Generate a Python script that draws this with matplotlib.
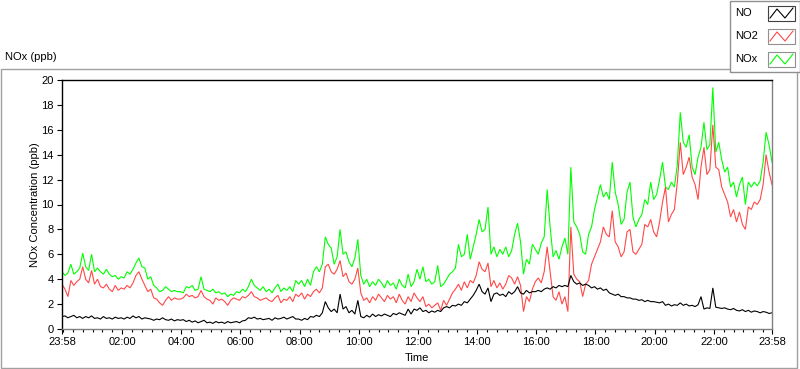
import numpy as np
import pandas as pd
import matplotlib
matplotlib.use("Agg")
import matplotlib.pyplot as plt
import matplotlib.dates as mdates
from matplotlib.patches import Rectangle
from matplotlib.lines import Line2D

# ---------------- data (one sample every 6 minutes) ----------------
start_time = "2015-06-01 23:58"
sample_step = "6min"

no = [
    1.0, 1.05, 0.9, 1.0, 1.1, 0.9, 1.0, 0.85, 1.0, 0.9, 1.05, 0.85, 0.9, 0.8, 1.0, 0.85, 0.9, 0.8, 0.95, 0.85,
    0.9, 0.8, 0.95, 0.85, 1.05, 0.9, 1.0, 0.8, 0.9, 0.85, 0.8, 0.7, 0.8, 0.75, 0.9, 0.75, 0.7, 0.8, 0.65, 0.75,
    0.7, 0.75, 0.6, 0.7, 0.55, 0.65, 0.5, 0.6, 0.7, 0.5, 0.55, 0.45, 0.6, 0.5, 0.55, 0.45, 0.6, 0.5, 0.55, 0.6,
    0.5, 0.65, 0.7, 0.9, 0.85, 0.95, 0.8, 0.85, 0.75, 0.8, 0.85, 0.7, 0.9, 0.8, 0.85, 0.95, 0.8, 0.9, 1.0, 0.8,
    0.8, 0.7, 0.85, 0.75, 1.0, 0.95, 1.1, 1.0, 1.3, 2.2, 1.7, 1.4, 1.6, 1.3, 2.8, 1.6, 1.8, 1.3, 1.5, 1.2,
    2.3, 1.0, 0.9, 1.1, 0.95, 1.2, 1.0, 1.15, 1.05, 1.2, 1.1, 1.0, 1.25, 1.15, 1.3, 1.2, 1.1, 1.6, 1.2, 1.6,
    1.5, 1.7, 1.4, 1.5, 1.3, 1.45, 1.35, 1.5, 1.4, 1.7, 1.8, 1.7, 1.9, 1.85, 2.0, 1.9, 2.2, 2.1, 2.4, 2.7,
    3.1, 3.6, 3.0, 2.8, 3.3, 2.2, 2.8, 2.9, 2.7, 2.8, 2.6, 3.0, 2.8, 3.0, 3.4, 2.9, 2.8, 3.1, 2.9, 3.0,
    3.0, 3.1, 3.0, 3.2, 3.3, 3.2, 3.4, 3.3, 3.5, 3.4, 3.5, 3.4, 4.3, 3.8, 3.6, 3.7, 3.5, 3.6, 3.5, 3.3,
    3.4, 3.2, 3.3, 3.1, 3.2, 2.9, 2.8, 2.7, 2.8, 2.6, 2.6, 2.5, 2.5, 2.4, 2.4, 2.3, 2.35, 2.2, 2.3, 2.2,
    2.2, 2.15, 2.1, 2.2, 1.9, 2.0, 1.85, 1.95, 1.9, 2.1, 1.9, 2.0, 1.85, 1.9, 1.8, 1.95, 2.6, 1.6, 1.7, 1.65,
    3.3, 1.75, 1.7, 1.65, 1.7, 1.6, 1.55, 1.65, 1.5, 1.45, 1.55, 1.4, 1.5, 1.35, 1.45, 1.4, 1.3, 1.4, 1.35, 1.25,
    1.3,
]

no2 = [
    3.6, 3.2, 2.6, 3.9, 3.5, 3.8, 4.0, 5.0, 4.0, 3.7, 4.7, 3.6, 4.0, 3.4, 3.3, 3.6, 3.2, 3.0, 3.5, 3.1,
    3.3, 3.2, 3.5, 3.3, 3.7, 4.3, 4.6, 4.0, 3.5, 3.0, 3.2, 2.5, 2.4, 2.1, 1.9, 2.3, 2.6, 2.3, 2.5, 2.4,
    2.4, 2.5, 2.8, 2.6, 2.7, 2.5, 2.6, 3.1, 2.6, 2.4, 2.3, 2.0, 2.5, 2.3, 2.4, 2.2, 1.9, 2.3, 2.5, 2.4,
    2.3, 2.6, 2.5, 2.7, 3.0, 2.6, 2.5, 2.3, 2.4, 2.5, 2.3, 2.2, 2.5, 2.7, 2.1, 2.4, 2.3, 2.6, 2.2, 2.8,
    2.6, 2.9, 2.4, 2.8, 2.6, 3.0, 3.2, 2.9, 3.3, 5.0, 5.2, 4.6, 4.4, 4.8, 5.5, 4.2, 4.5, 3.8, 3.6, 4.0,
    4.9, 2.9, 2.3, 2.5, 2.1, 2.6, 2.3, 2.8, 2.5, 2.2, 2.7, 2.4, 2.6, 2.1, 2.8, 2.3, 2.0, 2.6, 2.2, 2.9,
    2.5, 2.2, 2.6, 1.8, 2.0, 1.7, 1.9, 2.1, 1.5, 2.3, 1.9, 2.4, 2.9, 3.2, 3.6, 3.1, 3.8, 3.3, 3.9, 3.7,
    4.3, 5.4, 4.8, 4.6, 5.3, 3.4, 3.9, 3.3, 3.7, 3.2, 3.6, 4.3, 4.1, 3.6, 4.2, 3.5, 1.4, 2.6, 2.2, 3.2,
    3.8, 4.1, 3.7, 4.6, 6.6, 4.6, 2.6, 2.3, 3.0, 2.0, 2.6, 1.4, 8.2, 4.4, 4.0, 3.8, 2.6, 3.6, 3.9, 5.2,
    5.8, 6.4, 7.0, 8.2, 7.6, 7.4, 9.5, 7.0, 6.6, 5.8, 6.2, 7.8, 8.0, 6.2, 6.0, 6.4, 6.8, 8.4, 8.2, 8.8,
    7.8, 7.4, 8.6, 10.2, 11.4, 8.6, 9.2, 9.6, 11.8, 15.0, 12.4, 13.0, 13.8, 12.2, 11.6, 10.4, 13.0, 14.6, 12.4, 12.8,
    16.4, 13.0, 12.8, 11.4, 10.8, 10.2, 9.0, 9.6, 8.6, 9.4, 8.4, 8.0, 9.8, 9.6, 10.2, 10.0, 10.4, 11.6, 14.0, 12.6,
    11.6,
]

nox = [
    4.6, 4.3, 4.5, 5.2, 4.4, 4.6, 4.9, 6.1, 5.0, 4.7, 6.0, 4.6, 4.9, 4.6, 4.4, 4.8, 4.4, 4.2, 4.3, 4.0,
    4.2, 4.1, 4.6, 4.4, 4.8, 5.3, 5.7, 5.0, 4.9, 4.0, 4.2, 3.5, 3.3, 3.0, 3.1, 3.4, 3.2, 3.0, 3.1, 3.0,
    3.0, 2.9, 3.4, 3.3, 3.5, 3.1, 3.2, 4.2, 3.2, 3.1, 3.0, 3.2, 2.9, 3.0, 2.8, 2.9, 2.6, 2.8, 2.7, 3.0,
    2.9, 3.2, 3.0, 3.4, 4.0, 3.5, 3.3, 3.1, 3.4, 3.0, 3.2, 2.9, 3.3, 3.6, 3.0, 3.3, 3.1, 3.4, 3.0, 3.9,
    3.6, 3.9, 3.4, 4.0, 3.5, 4.6, 5.0, 4.6, 5.2, 7.4, 6.8, 6.5, 5.2, 5.8, 8.0, 6.0, 6.2, 5.4, 5.0, 5.7,
    7.2, 4.3, 3.6, 4.0, 3.4, 3.8, 3.5, 4.0, 3.7, 3.3, 3.9, 3.5, 3.7, 3.2, 4.0, 3.5, 3.3, 4.4, 3.4, 3.8,
    4.8, 4.0, 5.0, 3.8, 4.0, 3.6, 3.8, 5.1, 3.4, 3.6, 4.0, 4.4, 4.6, 4.9, 6.8, 5.8, 6.0, 7.6, 5.6, 6.6,
    7.6, 8.8, 7.8, 8.0, 9.8, 6.0, 6.6, 5.8, 6.4, 6.0, 6.6, 5.8, 6.3, 7.6, 8.5, 7.0, 4.4, 5.6, 5.2, 6.8,
    6.4, 6.0, 6.9, 7.4, 11.2, 8.2, 5.8, 6.3, 5.6, 6.6, 7.3, 6.0, 13.0, 8.6, 8.2, 7.6, 6.2, 6.0, 7.6, 8.2,
    9.6, 10.6, 11.6, 10.6, 11.0, 10.4, 13.4, 11.0, 10.0, 8.4, 8.8, 11.0, 11.8, 9.0, 8.2, 8.8, 9.2, 10.4, 10.0, 11.8,
    10.4, 10.8, 12.0, 13.4, 11.4, 11.2, 11.8, 11.4, 13.2, 17.4, 15.0, 14.6, 15.6, 13.0, 12.4, 13.8, 14.6, 16.6, 14.4, 14.8,
    19.4, 14.2, 15.0, 13.6, 12.6, 13.0, 11.4, 11.8, 10.6, 11.6, 12.2, 10.0, 11.8, 11.4, 11.8, 11.5, 11.9, 13.4, 15.8, 14.8,
    13.4,
]

series_names = ["NO", "NO2", "NOx"]
series_colors = ["#000000", "#ff4848", "#00ff00"]
tick_labels = ["23:58", "02:00", "04:00", "06:00", "08:00", "10:00", "12:00",
               "14:00", "16:00", "18:00", "20:00", "22:00", "23:58"]
y_ticks = [0, 2, 4, 6, 8, 10, 12, 14, 16, 18, 20]

# ---------------- figure ----------------
plt.rcParams['font.family'] = ['Liberation Sans', 'DejaVu Sans']
plt.rcParams['font.size'] = 8

W, H = 800, 369
fig = plt.figure(figsize=(W / 100, H / 100), dpi=100)
fig.patch.set_facecolor("white")

def fx(x):
    return x / W

def fy(y):
    return 1 - y / H

# outer gray frame
fig.add_artist(Rectangle((fx(0.5), fy(368)), fx(797) - fx(0.5), fy(69) - fy(368),
                         transform=fig.transFigure, fill=False, edgecolor="#a0a0a0", lw=1.0))

ax = fig.add_axes([fx(62), fy(329), fx(772) - fx(62), fy(80) - fy(329)])

t0 = pd.Timestamp(start_time)
t_end = t0 + pd.Timedelta(hours=24)

data = [no, no2, nox]
order = [2, 1, 0]  # draw NOx first, NO on top
for k in order:
    vals = data[k]
    times = pd.date_range(t0, periods=len(vals), freq=sample_step)
    ax.plot(times, vals, color=series_colors[k], lw=0.8, solid_joinstyle="miter")

ax.set_xlim(t0, t_end)
ax.set_ylim(0, 20)
ax.set_yticks(y_ticks)
ax.set_yticklabels([str(v) for v in y_ticks])

day0 = pd.Timestamp(t0.date())
major_pos = [t0] + [day0 + pd.Timedelta(days=1, hours=h) for h in range(2, 24, 2)] + [t_end]
ax.set_xticks([mdates.date2num(p) for p in major_pos])
ax.set_xticklabels(tick_labels)
ax.xaxis.set_minor_locator(mdates.MinuteLocator(byminute=[0, 20, 40]))

ax.tick_params(axis="both", which="major", direction="out", length=3.6, width=0.8,
               color="black", labelsize=8, pad=2.5, labelcolor="black")
ax.tick_params(axis="x", which="minor", direction="out", length=2.2, width=0.8, color="black")

for side in ["top", "left"]:
    ax.spines[side].set_color("black")
    ax.spines[side].set_linewidth(1.0)
for side in ["bottom", "right"]:
    ax.spines[side].set_color("#808080")
    ax.spines[side].set_linewidth(1.0)

# labels
fig.text(fx(5), fy(57), "NOx (ppb)", ha="left", va="center", fontsize=8)
fig.text(fx(35), fy(205), "NOx Concentration (ppb)", rotation=90, ha="center", va="center", fontsize=8)
fig.text(fx(417), fy(358), "Time", ha="center", va="center", fontsize=8)

# legend box (top right)
fig.add_artist(Rectangle((fx(730), fy(72)), fx(799.5) - fx(730), fy(0.5) - fy(72),
                         transform=fig.transFigure, facecolor="white", edgecolor="#909090", lw=1.0, zorder=5))
rows_y = [13, 36, 59]
for k, name in enumerate(series_names):
    yc = rows_y[k]
    fig.text(fx(735), fy(yc), name, ha="left", va="center", fontsize=8, zorder=6)
    ec = "#404040" if k == 0 else "#909090"
    fig.add_artist(Rectangle((fx(768), fy(yc + 8)), fx(795) - fx(768), fy(yc - 7) - fy(yc + 8),
                             transform=fig.transFigure, facecolor="white", edgecolor=ec, lw=0.8, zorder=6))
    zx = [770, 777, 785, 793]
    zy = [yc + 5, yc - 4, yc + 5, yc - 5]
    fig.add_artist(Line2D([fx(v) for v in zx], [fy(v) for v in zy], transform=fig.transFigure,
                          color=series_colors[k], lw=0.8, zorder=7))

fig.savefig("out.png", dpi=100, facecolor="white")
